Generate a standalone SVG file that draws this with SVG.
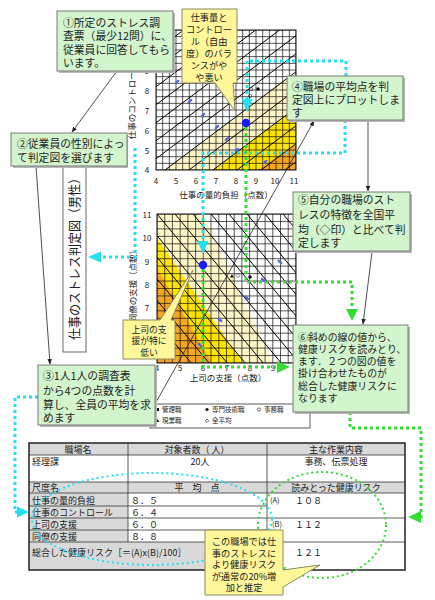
<svg xmlns="http://www.w3.org/2000/svg" width="435" height="600" viewBox="0 0 435 600">
<defs>
<style>
text{font-family:"Noto Sans CJK JP","Noto Sans",sans-serif;fill:#222}
.box{fill:#D2F5CE;stroke:#7a7a7a;stroke-width:1}
.shadow{fill:#b8b8b8}
.call{fill:#FFF799;stroke:#8a8a60;stroke-width:1}
.bt{font-size:10.8px}
.ct{font-size:9.2px}
.tk{font-size:8px}
.ax{font-size:8.5px}
.grid{stroke:#111;stroke-width:0.7;fill:none}
.diag{stroke:#000;stroke-width:1;fill:none}
.cy{stroke:#22E0F0;stroke-width:3;stroke-dasharray:3 3;fill:none}
.gr{stroke:#33DD33;stroke-width:3;stroke-dasharray:3 3;fill:none}
.ln{stroke:#222;stroke-width:0.8;fill:none}
.tb{font-size:9px}
.cell{fill:#D9D9D9}
</style>
<marker id="ah" viewBox="0 0 10 10" refX="9" refY="5" markerWidth="7" markerHeight="7" orient="auto"><path d="M0,1 L10,5 L0,9 z" fill="#222"/></marker>
<clipPath id="c1"><rect x="156" y="30" width="140" height="140"/></clipPath>
<clipPath id="c2"><rect x="157" y="214" width="139" height="149"/></clipPath>
</defs>
<rect width="435" height="600" fill="#fff"/>

<!-- top chart -->
<g id="chart-top">
<g clip-path="url(#c1)">
<rect x="156" y="30" width="140" height="140" fill="#fff"/>
<polygon points="165,170 296,71.75 296,170" fill="#FFF6C8"/>
<polygon points="214,170 296,107.75 296,170" fill="#FFE400"/>
<polygon points="257,170 296,143.75 296,170" fill="#F5A623"/>
<path class="grid" d="M156,30V170M162.67,30V170M169.33,30V170M176,30V170M182.67,30V170M189.33,30V170M196,30V170M202.67,30V170M209.33,30V170M216,30V170M222.67,30V170M229.33,30V170M236,30V170M242.67,30V170M249.33,30V170M256,30V170M262.67,30V170M269.33,30V170M276,30V170M282.67,30V170M289.33,30V170M296,30V170M156,30H296M156,36.67H296M156,43.33H296M156,50H296M156,56.67H296M156,63.33H296M156,70H296M156,76.67H296M156,83.33H296M156,90H296M156,96.67H296M156,103.33H296M156,110H296M156,116.67H296M156,123.33H296M156,130H296M156,136.67H296M156,143.33H296M156,150H296M156,156.67H296M156,163.33H296M156,170H296"/>
<path class="diag" d="M156,32.75L296,-72.25M156,50.75L296,-54.25M156,68.75L296,-36.25M156,86.75L296,-18.25M156,104.75L296,-0.25M156,122.75L296,17.75M156,140.75L296,35.75M156,158.75L296,53.75M156,176.75L296,71.75M156,194.75L296,89.75M156,212.75L296,107.75M156,230.75L296,125.75M156,248.75L296,143.75M156,266.75L296,161.75"/>
<g fill="#5566dd">
<ellipse cx="177" cy="82" rx="3" ry="1.2" transform="rotate(-40 177 82)"/>
<ellipse cx="190" cy="101" rx="3" ry="1.2" transform="rotate(-40 190 101)"/>
<ellipse cx="203" cy="115" rx="3" ry="1.2" transform="rotate(-40 203 115)"/>
<ellipse cx="217" cy="127" rx="3" ry="1.2" transform="rotate(-40 217 127)"/>
<ellipse cx="227" cy="139" rx="3" ry="1.2" transform="rotate(-40 227 139)"/>
<ellipse cx="237" cy="150" rx="3" ry="1.2" transform="rotate(-40 237 150)"/>
<ellipse cx="265" cy="162" rx="3" ry="1.2" transform="rotate(-40 265 162)"/>
</g>
</g>
<rect x="156" y="30" width="140" height="140" fill="none" stroke="#111" stroke-width="1"/>
<g class="tk" text-anchor="middle">
<text x="147" y="74">9</text><text x="147" y="94">8</text><text x="147" y="114">7</text><text x="147" y="134">6</text><text x="147" y="154">5</text><text x="147" y="173">4</text>
<text x="156" y="184">4</text><text x="176" y="184">5</text><text x="196" y="184">6</text><text x="216" y="184">7</text><text x="236" y="184">8</text><text x="256" y="184">9</text><text x="275" y="184">10</text><text x="294" y="184">11</text>
</g>
<text class="ax" x="226" y="198" text-anchor="middle">仕事の量的負担（点数）</text>
<text class="ax" transform="translate(135,84) rotate(-90)" text-anchor="middle">仕事のコントロール（点数）</text>
<g><circle cx="251" cy="89" r="1.8" fill="none" stroke="#222" stroke-width="0.6"/><circle cx="258" cy="89" r="1.8" fill="#111"/><path d="M250,94 l2,2 l-2,2 l-2,-2z" fill="none" stroke="#222" stroke-width="0.6"/></g>
</g>

<!-- bottom chart -->
<g id="chart-bottom">
<g clip-path="url(#c2)">
<rect x="157" y="214" width="139" height="149" fill="#fff"/>
<polygon points="157,214 203,214 273,363 157,363" fill="#FFF6C8"/>
<polygon points="157,238 243,363 157,363" fill="#FFE400"/>
<polygon points="157,268 212,363 157,363" fill="#F5A623"/>
<path class="grid" d="M157,214V363M164.7,214V363M172.4,214V363M180.2,214V363M187.9,214V363M195.6,214V363M203.3,214V363M211,214V363M218.8,214V363M226.5,214V363M234.2,214V363M241.9,214V363M249.6,214V363M257.3,214V363M265.1,214V363M272.8,214V363M280.5,214V363M288.2,214V363M296,214V363M157,214H296M157,221.45H296M157,228.9H296M157,236.35H296M157,243.8H296M157,251.25H296M157,258.7H296M157,266.15H296M157,273.6H296M157,281.05H296M157,288.5H296M157,295.95H296M157,303.4H296M157,310.85H296M157,318.3H296M157,325.75H296M157,333.2H296M157,340.65H296M157,348.1H296M157,355.55H296M157,363H296"/>
<path class="diag" d="M121,214L246,364M139,214L264,364M157,214L282,364M175,214L300,364M193,214L318,364M211,214L336,364M229,214L354,364M247,214L372,364M265,214L390,364M283,214L408,364M103,214L228,364M85,214L210,364M67,214L192,364"/>
<g fill="#5566dd">
<ellipse cx="280" cy="262" rx="3" ry="1.2" transform="rotate(40 280 262)"/>
<ellipse cx="263" cy="280" rx="3" ry="1.2" transform="rotate(40 263 280)"/>
<ellipse cx="247" cy="298" rx="3" ry="1.2" transform="rotate(40 247 298)"/>
<ellipse cx="220" cy="320" rx="3" ry="1.2" transform="rotate(40 220 320)"/>
<ellipse cx="200" cy="345" rx="3" ry="1.2" transform="rotate(40 200 345)"/>
</g>
</g>
<rect x="157" y="214" width="139" height="149" fill="none" stroke="#111" stroke-width="1"/>
<g class="tk" text-anchor="middle">
<text x="147" y="218">11</text><text x="147" y="241">10</text><text x="147" y="265">9</text><text x="147" y="288">8</text><text x="147" y="311">7</text>
<text x="157" y="371">4</text><text x="180" y="371">5</text><text x="203" y="371">6</text><text x="227" y="371">7</text><text x="250" y="371">8</text><text x="273" y="371">9</text>
</g>
<text class="ax" x="228" y="381" text-anchor="middle">上司の支援（点数）</text>
<text class="ax" transform="translate(136,284) rotate(-90)" text-anchor="middle">同僚の支援（点数）</text>
<path d="M232,274 l2,3.5 h-4z" fill="#111"/><path d="M238,273.5 l2,2 l-2,2 l-2,-2z" fill="none" stroke="#222" stroke-width="0.6"/><circle cx="250" cy="277" r="1.8" fill="#111"/>
</g>

<!-- legend -->
<g id="legend">
<rect x="150" y="404" width="160" height="24" fill="#fff" stroke="#333" stroke-width="0.8"/>
<g font-size="6.5">
<rect x="156" y="408" width="3" height="3" fill="#111"/><text x="162" y="412">管理職</text>
<circle cx="207" cy="409.5" r="1.6" fill="#111"/><text x="212" y="412">専門技術職</text>
<circle cx="259" cy="409.5" r="1.6" fill="none" stroke="#111" stroke-width="0.6"/><text x="264" y="412">事務職</text>
<path d="M157.5,419 l1.8,3 h-3.6z" fill="#111"/><text x="162" y="423">現業職</text>
<path d="M207,419 l1.8,1.8 l-1.8,1.8 l-1.8,-1.8z" fill="none" stroke="#111" stroke-width="0.6"/><text x="212" y="423">全平均</text>
</g>
</g>

<!-- table -->
<g id="table">
<rect x="29" y="443" width="376" height="127" fill="#fff"/>
<rect class="cell" x="29" y="443" width="376" height="12"/>
<rect class="cell" x="29" y="482" width="376" height="11"/>
<rect class="cell" x="29" y="493" width="99" height="49"/>
<rect class="cell" x="29" y="542" width="238" height="28"/>
<path d="M29,455H405M29,482H405M29,493H405M29,506H267M29,518H405M29,530H267M29,542H405M128,443V542M267,443V570" stroke="#333" stroke-width="0.8" fill="none"/>
<rect x="29" y="443" width="376" height="127" fill="none" stroke="#222" stroke-width="1.5"/>
<g class="tb">
<text x="78" y="452.5" text-anchor="middle">職場名</text>
<text x="197" y="452.5" text-anchor="middle">対象者数（ 人）</text>
<text x="336" y="452.5" text-anchor="middle">主な作業内容</text>
<text x="32" y="465">経理課</text>
<text x="200" y="465" text-anchor="middle">20人</text>
<text x="336" y="465" text-anchor="middle">事務、伝票処理</text>
<text x="32" y="491">尺度名</text>
<text x="197" y="491" text-anchor="middle">平　均　点</text>
<text x="336" y="491" text-anchor="middle">読みとった健康リスク</text>
<text x="32" y="503.5">仕事の量的負担</text>
<text x="32" y="515.5">仕事のコントロール</text>
<text x="32" y="527.5">上司の支援</text>
<text x="32" y="539.5">同僚の支援</text>
<text x="32" y="556">総合した健康リスク［＝(A)x(B)/100］</text>
<text x="131" y="503.5">８．５</text>
<text x="131" y="515.5">６．４</text>
<text x="131" y="527.5">６．０</text>
<text x="131" y="539.5">８．８</text>
<text x="270" y="503" font-size="7.5">(A)</text><text x="295" y="503.5">１０８</text>
<text x="272" y="527" font-size="7.5">(B)</text><text x="295" y="527.5">１１２</text>
<text x="295" y="556">１２１</text>
</g>
</g>

<!-- connectors -->
<g id="connectors">
<path class="cy" d="M346,76V61H247V100"/>
<path d="M241.5,99 L252.5,99 L247,112 z" fill="#22E0F0"/>
<path class="cy" d="M345,120V153H203V242"/>
<path d="M197.5,241 L208.5,241 L203,254 z" fill="#22E0F0"/>
<path class="cy" d="M135,148V257H100"/>
<path d="M101,251.5 L101,262.5 L88,257 z" fill="#22E0F0"/>
<path class="cy" d="M38,397H15V512H18"/>
<path d="M17,506.5 L17,517.5 L29,512 z" fill="#22E0F0"/>
<path class="gr" d="M246,127V282H352V310"/>
<path d="M346,309 L358,309 L352,321 z" fill="#33DD33"/>
<path class="gr" d="M203,269V367H278"/>
<path d="M277,361 L277,373 L290,367 z" fill="#33DD33"/>
<path class="gr" d="M350,412V428H421V517H420"/>
<path d="M421,511 L421,523 L408,517 z" fill="#33DD33"/>
<circle cx="246" cy="123" r="4.2" fill="#1a1aff"/>
<circle cx="203" cy="265" r="4.2" fill="#1a1aff"/>
<line class="ln" x1="117" y1="71" x2="72" y2="132" marker-end="url(#ah)"/>
<line class="ln" x1="36" y1="166" x2="50" y2="364" marker-end="url(#ah)"/>
<line class="ln" x1="368" y1="121" x2="368" y2="191" marker-end="url(#ah)"/>
<line class="ln" x1="372" y1="252" x2="363" y2="324" marker-end="url(#ah)"/>
<line class="ln" x1="155" y1="404" x2="314" y2="121" marker-end="url(#ah)"/>
<ellipse cx="152" cy="519" rx="120" ry="46" fill="none" stroke="#22E0F0" stroke-width="2" stroke-dasharray="2 3"/>
<ellipse cx="322" cy="525" rx="64" ry="53" fill="none" stroke="#33DD33" stroke-width="2" stroke-dasharray="2 3"/>
</g>

<!-- title vertical -->
<g id="title">
<rect x="63" y="166" width="23" height="186" fill="#fff" stroke="#444" stroke-width="0.8"/>
<text font-size="13" transform="translate(79,256) rotate(-90)" text-anchor="middle" textLength="168" lengthAdjust="spacingAndGlyphs">仕事のストレス判定図（男性）</text>
</g>

<!-- boxes -->
<g id="box1">
<rect class="shadow" x="59" y="13" width="116" height="60"/>
<rect class="box" x="57" y="11" width="116" height="60"/>
<text class="bt" x="63" y="27">①所定のストレス調</text>
<text class="bt" x="63" y="40">査票（最少12問）に、</text>
<text class="bt" x="63" y="54">従業員に回答してもら</text>
<text class="bt" x="63" y="67">います。</text>
</g>
<g id="callout1">
<path class="call" d="M182,9 H237 V83 H233 L235,111 L215,83 H182 Z"/>
<g class="ct" text-anchor="middle">
<text x="209" y="21">仕事量と</text>
<text x="209" y="33">コントロー</text>
<text x="209" y="45">ル（自由</text>
<text x="209" y="57">度）のバラ</text>
<text x="209" y="69">ンスがや</text>
<text x="209" y="81">や悪い</text>
</g>
</g>
<g id="box2">
<rect class="shadow" x="13" y="135" width="115" height="33"/>
<rect class="box" x="11" y="133" width="116" height="33"/>
<text class="bt" x="17" y="148">②従業員の性別によっ</text>
<text class="bt" x="17" y="162">て判定図を選びます</text>
</g>
<g id="box4">
<rect class="shadow" x="289" y="78" width="116" height="44"/>
<rect class="box" x="287" y="76" width="116" height="44"/>
<text class="bt" x="292" y="91">④職場の平均点を判</text>
<text class="bt" x="292" y="104">定図上にプロットしま</text>
<text class="bt" x="292" y="117">す</text>
</g>
<g id="box5">
<rect class="shadow" x="295" y="194" width="117" height="59"/>
<rect class="box" x="293" y="192" width="117" height="59"/>
<text class="bt" x="298" y="204">⑤自分の職場のスト</text>
<text class="bt" x="298" y="219">レスの特徴を全国平</text>
<text class="bt" x="298" y="234">均（◇印）と比べて判</text>
<text class="bt" x="298" y="247">定します</text>
</g>
<g id="box6">
<rect class="shadow" x="295" y="327" width="115" height="87"/>
<rect class="box" x="293" y="325" width="115" height="87"/>
<g font-size="9.9">
<text x="298" y="341">⑥斜めの線の値から、</text>
<text x="298" y="353">健康リスクを読みとり、</text>
<text x="298" y="365">ます．２つの図の値を</text>
<text x="298" y="377">掛け合わせたものが</text>
<text x="298" y="390">総合した健康リスクに</text>
<text x="298" y="402">なります</text>
</g>
</g>
<g id="box3">
<rect class="shadow" x="40" y="367" width="117" height="60"/>
<rect class="box" x="38" y="365" width="117" height="60"/>
<text class="bt" x="43" y="380">③1人1人の調査表</text>
<text class="bt" x="43" y="395">から4つの点数を計</text>
<text class="bt" x="43" y="409">算し、全員の平均を求</text>
<text class="bt" x="43" y="422">めます</text>
</g>
<g id="callout-low">
<path class="call" d="M123,320 H160 L193,270 L171,320 H175 V359 H123 Z"/>
<g font-size="8.8" text-anchor="middle">
<text x="149" y="332.5">上司の支</text>
<text x="149" y="344">援が特に</text>
<text x="149" y="355.5">低い</text>
</g>
</g>
<g id="callout2">
<path class="call" d="M205,530 H283 V570 L320,565 L283,587 V595 H205 Z"/>
<g class="ct" text-anchor="middle">
<text x="244" y="545">この職場では仕</text>
<text x="244" y="556.5">事のストレスに</text>
<text x="244" y="568">より健康リスク</text>
<text x="244" y="579.5">が通常の20%増</text>
<text x="244" y="591">加と推定</text>
</g>
</g>
</svg>
